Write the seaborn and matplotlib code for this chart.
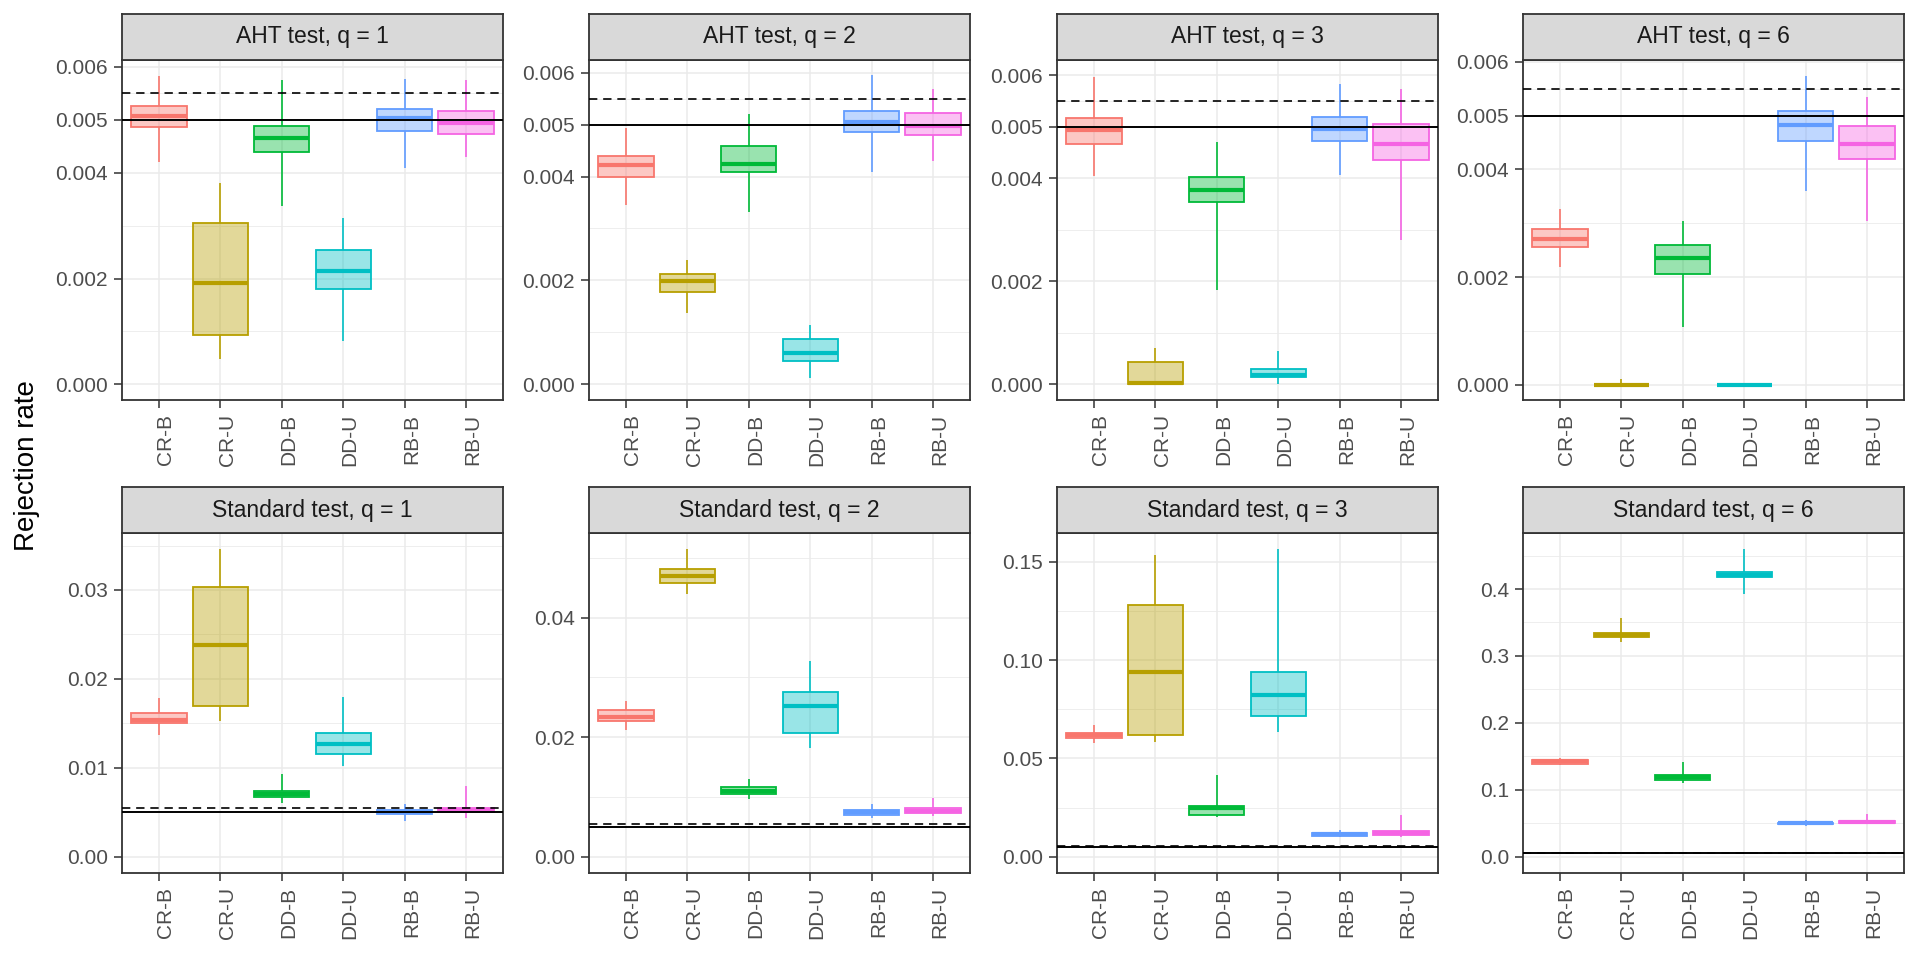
import numpy as np
import pandas as pd
import matplotlib
matplotlib.use("Agg")
import matplotlib.pyplot as plt
import seaborn as sns
from matplotlib.colors import to_rgba
from matplotlib.ticker import FixedLocator, FixedFormatter
from matplotlib.transforms import ScaledTranslation

# ---------------- data ----------------
methods = ["CR-B", "CR-U", "DD-B", "DD-U", "RB-B", "RB-U"]
palette = ["#F8766D", "#B79F00", "#00BA38", "#00BFC4", "#619CFF", "#F564E3"]

panel_titles = ["AHT test, q = 1", "AHT test, q = 2", "AHT test, q = 3", "AHT test, q = 6",
                "Standard test, q = 1", "Standard test, q = 2", "Standard test, q = 3", "Standard test, q = 6"]

# per method: [whisker low, Q1, median, Q3, whisker high]
aht_q1 = [[0.00421, 0.00486, 0.00508, 0.00526, 0.00583],
          [0.00048, 0.00093, 0.00191, 0.00305, 0.00381],
          [0.00338, 0.00439, 0.00465, 0.00488, 0.00575],
          [0.00082, 0.00180, 0.00214, 0.00253, 0.00314],
          [0.00409, 0.00479, 0.00504, 0.00521, 0.00577],
          [0.00429, 0.00473, 0.00495, 0.00517, 0.00575]]
aht_q2 = [[0.00345, 0.00400, 0.00422, 0.00439, 0.00493],
          [0.00137, 0.00178, 0.00199, 0.00213, 0.00240],
          [0.00332, 0.00408, 0.00425, 0.00459, 0.00521],
          [0.00012, 0.00044, 0.00060, 0.00088, 0.00114],
          [0.00408, 0.00485, 0.00506, 0.00526, 0.00595],
          [0.00430, 0.00481, 0.00497, 0.00522, 0.00569]]
aht_q3 = [[0.00405, 0.00467, 0.00493, 0.00517, 0.00596],
          [0.00000, 0.00000, 0.00002, 0.00044, 0.00070],
          [0.00184, 0.00353, 0.00378, 0.00403, 0.00471],
          [0.00000, 0.00014, 0.00018, 0.00030, 0.00064],
          [0.00407, 0.00473, 0.00495, 0.00519, 0.00583],
          [0.00280, 0.00436, 0.00466, 0.00506, 0.00574]]
aht_q6 = [[0.00219, 0.00256, 0.00271, 0.00289, 0.00326],
          [0.00000, 0.00000, 0.00000, 0.00000, 0.00010],
          [0.00108, 0.00206, 0.00235, 0.00260, 0.00305],
          [0.00000, 0.00000, 0.00000, 0.00000, 0.00000],
          [0.00359, 0.00453, 0.00482, 0.00508, 0.00573],
          [0.00304, 0.00420, 0.00448, 0.00481, 0.00534]]
std_q1 = [[0.01372, 0.01505, 0.01540, 0.01620, 0.01782],
          [0.01530, 0.01695, 0.02381, 0.03037, 0.03458],
          [0.00607, 0.00672, 0.00709, 0.00742, 0.00930],
          [0.01024, 0.01155, 0.01268, 0.01391, 0.01793],
          [0.00405, 0.00480, 0.00500, 0.00525, 0.00593],
          [0.00439, 0.00506, 0.00530, 0.00551, 0.00795]]
std_q2 = [[0.02126, 0.02266, 0.02330, 0.02450, 0.02606],
          [0.04400, 0.04580, 0.04700, 0.04820, 0.05150],
          [0.00960, 0.01044, 0.01100, 0.01161, 0.01295],
          [0.01824, 0.02065, 0.02517, 0.02762, 0.03275],
          [0.00653, 0.00698, 0.00740, 0.00776, 0.00882],
          [0.00686, 0.00726, 0.00770, 0.00810, 0.00982]]
std_q3 = [[0.0580, 0.0604, 0.0617, 0.0627, 0.0670],
          [0.0582, 0.0619, 0.0938, 0.1280, 0.1533],
          [0.0200, 0.0212, 0.0246, 0.0259, 0.0415],
          [0.0633, 0.0716, 0.0821, 0.0939, 0.1565],
          [0.0100, 0.0106, 0.0115, 0.0122, 0.0136],
          [0.0102, 0.0109, 0.0121, 0.0129, 0.0212]]
std_q6 = [[0.1375, 0.1390, 0.1425, 0.1445, 0.1470],
          [0.3210, 0.3280, 0.3315, 0.3350, 0.3570],
          [0.1097, 0.1150, 0.1185, 0.1215, 0.1416],
          [0.3930, 0.4180, 0.4215, 0.4250, 0.4600],
          [0.0465, 0.0485, 0.0497, 0.0510, 0.0545],
          [0.0500, 0.0507, 0.0520, 0.0533, 0.0638]]

panel_stats = [aht_q1, aht_q2, aht_q3, aht_q6, std_q1, std_q2, std_q3, std_q6]

nominal_level = 0.005
upper_bound = 0.0055

# y axis breaks / labels per panel
aht_breaks = [0.0, 0.002, 0.004, 0.005, 0.006]
aht_labels = ["0.000", "0.002", "0.004", "0.005", "0.006"]
aht_minor = [0.001, 0.003, 0.0055]
std1_breaks = [0.0, 0.01, 0.02, 0.03]
std1_labels = ["0.00", "0.01", "0.02", "0.03"]
std1_minor = [0.005, 0.015, 0.025, 0.035]
std2_breaks = [0.0, 0.02, 0.04]
std2_labels = ["0.00", "0.02", "0.04"]
std2_minor = [0.01, 0.03, 0.05]
std3_breaks = [0.0, 0.05, 0.10, 0.15]
std3_labels = ["0.00", "0.05", "0.10", "0.15"]
std3_minor = [0.025, 0.075, 0.125]
std6_breaks = [0.0, 0.1, 0.2, 0.3, 0.4]
std6_labels = ["0.0", "0.1", "0.2", "0.3", "0.4"]
std6_minor = [0.05, 0.15, 0.25, 0.35, 0.45]

breaks = [aht_breaks] * 4 + [std1_breaks, std2_breaks, std3_breaks, std6_breaks]
labels = [aht_labels] * 4 + [std1_labels, std2_labels, std3_labels, std6_labels]
minors = [aht_minor] * 4 + [std1_minor, std2_minor, std3_minor, std6_minor]

ylims = [(-0.000297, 0.006132), (-0.000303, 0.006245), (-0.000305, 0.006297), (-0.000284, 0.006032),
         (-0.00183, 0.03641), (-0.00273, 0.05418), (-0.00829, 0.1646), (-0.0244, 0.4837)]

# long-format table
rows = []
for p, stats in enumerate(panel_stats):
    for m, vals in zip(methods, stats):
        for v in vals:
            rows.append({"panel": p, "method": m, "value": v})
df = pd.DataFrame(rows)

# ---------------- figure ----------------
plt.rcParams['font.family'] = ['Liberation Sans', 'DejaVu Sans']
W, H = 1920, 960
fig = plt.figure(figsize=(19.2, 9.6), dpi=100)

col_left = [122, 589, 1057, 1523]
panel_w = 381
row_plot = [(60, 400), (533, 873)]
row_strip = [(14, 60), (487, 533)]

dark = "#333333"
grid_c = "#EBEBEB"

for p in range(8):
    r, c = divmod(p, 4)
    l = col_left[c]
    top, bot = row_plot[r]
    ax = fig.add_axes([l / W, 1 - bot / H, panel_w / W, (bot - top) / H])
    st, sb = row_strip[r]
    sax = fig.add_axes([l / W, 1 - sb / H, panel_w / W, (sb - st) / H])
    sax.set_facecolor("#D9D9D9")
    sax.set_xticks([]); sax.set_yticks([])
    for s in sax.spines.values():
        s.set_color(dark); s.set_linewidth(1.3)
    sax.text(0.5, 0.5, panel_titles[p], ha="center", va="center", fontsize=16.5,
             color="#1A1A1A", transform=sax.transAxes)

    sub = df[df["panel"] == p]
    for i, m in enumerate(methods):
        col = palette[i]
        npatch = len(ax.patches)
        nline = len(ax.lines)
        sns.boxplot(data=sub[sub["method"] == m], x="method", y="value", order=methods,
                    color=col, linecolor=col, saturation=1, whis=(0, 100),
                    showfliers=False, showcaps=False, width=0.9, linewidth=1.2, ax=ax)
        for patch in ax.patches[npatch:]:
            patch.set_facecolor(to_rgba(col, 0.4))
            patch.set_edgecolor(col)
            patch.set_linewidth(1.3)
            patch.set_zorder(2)
        for ln in ax.lines[nline:]:
            ln.set_color(col)
            ln.set_zorder(2.5)
            xd = np.asarray(ln.get_xdata(), dtype=float)
            if len(xd) >= 2 and xd[0] != xd[-1]:
                ln.set_linewidth(3.0)
                ln.set_solid_capstyle("butt")
            else:
                ln.set_linewidth(1.2)

    ax.axhline(upper_bound, color="black", lw=1.2, ls=(0, (5, 3.5)), zorder=4)
    ax.axhline(nominal_level, color="black", lw=1.4, zorder=5)

    ax.set_xlim(-0.6, 5.6)
    ax.set_ylim(*ylims[p])
    ax.yaxis.set_major_locator(FixedLocator(breaks[p]))
    ax.yaxis.set_major_formatter(FixedFormatter(labels[p]))
    ax.yaxis.set_minor_locator(FixedLocator(minors[p]))
    ax.set_xlabel("")
    ax.set_ylabel("")
    ax.set_axisbelow(True)
    ax.grid(which="major", color=grid_c, lw=1.1)
    ax.grid(which="minor", axis="y", color=grid_c, lw=0.6)
    ax.tick_params(which="minor", length=0)
    ax.tick_params(which="major", length=6, width=1.1, color=dark, labelsize=15,
                   labelcolor="#4D4D4D", pad=4)
    ax.tick_params(axis="x", labelrotation=90)
    for s in ax.spines.values():
        s.set_color(dark); s.set_linewidth(1.3)
    off = ScaledTranslation(7 / 100, 0, fig.dpi_scale_trans)
    for lab in ax.get_xticklabels():
        lab.set_transform(lab.get_transform() + off)
        lab.set_va("top")
        lab.set_ha("center")

fig.text(27 / W, 1 - 466 / H, "Rejection rate", rotation=90, ha="center", va="center",
         fontsize=20, color="black")

fig.savefig("out.png", dpi=100)
